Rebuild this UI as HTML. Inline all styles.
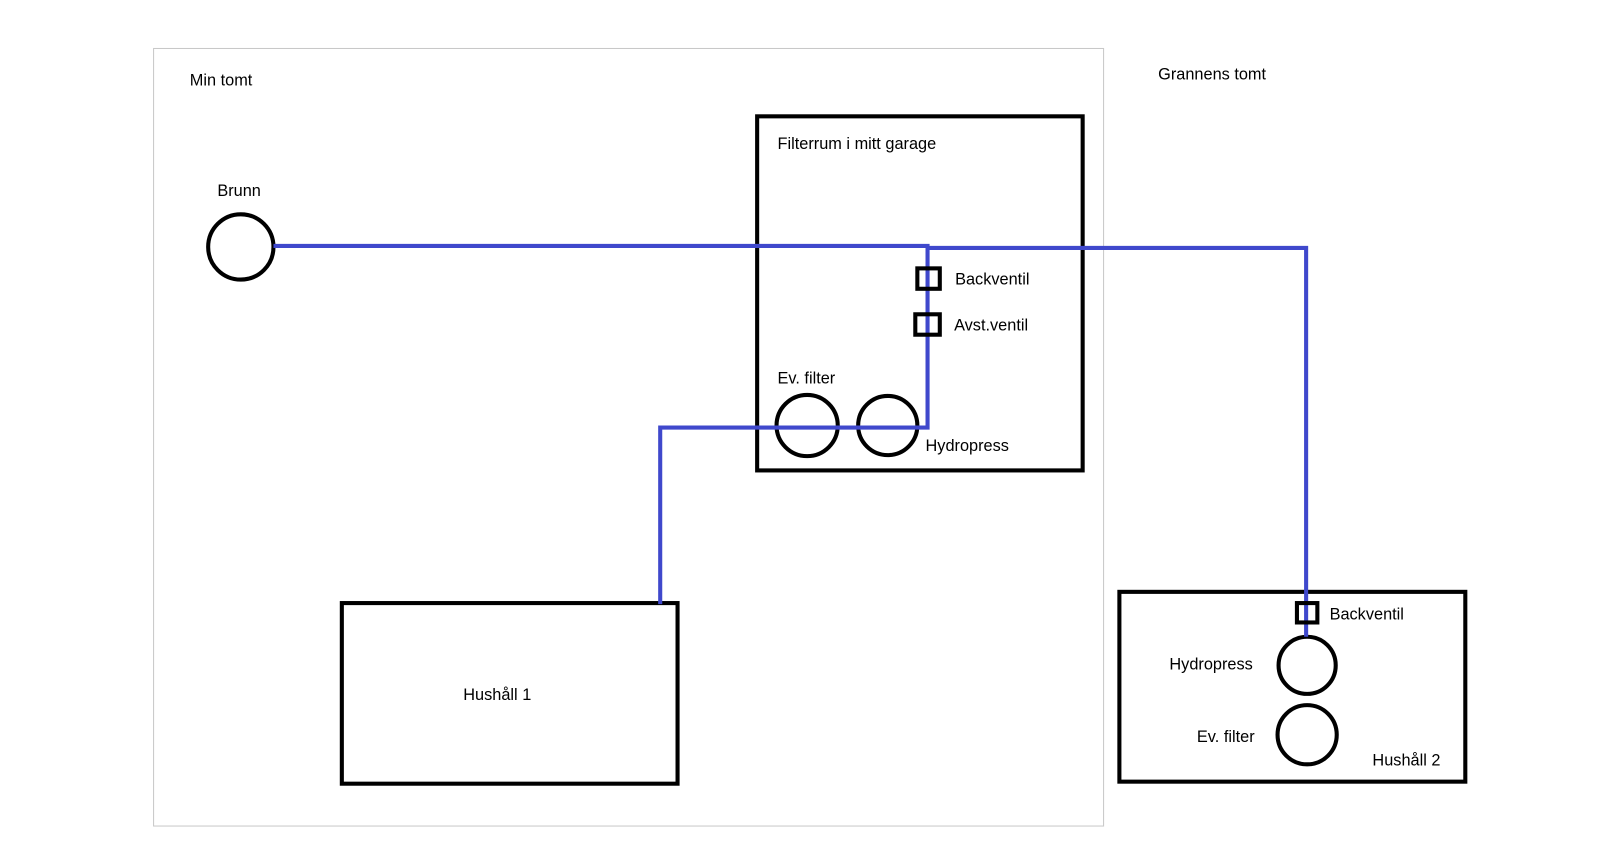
<!DOCTYPE html>
<html><head><meta charset="utf-8"><style>
html,body{margin:0;padding:0;background:#fff;}
svg{display:block}
text{font-family:"Liberation Sans",sans-serif;font-size:16px;fill:#000;}
</style></head><body>
<svg width="1600" height="864" viewBox="0 0 1568 846.7" preserveAspectRatio="none" xmlns="http://www.w3.org/2000/svg">
<rect x="150.5" y="47.5" width="931" height="762" fill="none" stroke="#c8c8c8" stroke-width="1"/>
<text x="186" y="84">Min tomt</text>
<text x="1135" y="78">Grannens tomt</text>
<text x="213" y="192">Brunn</text>
<circle cx="236" cy="242" r="32" fill="none" stroke="#000" stroke-width="4"/>
<rect x="742" y="114" width="319" height="347" fill="none" stroke="#000" stroke-width="4"/>
<text x="762" y="146">Filterrum i mitt garage</text>
<g fill="none" stroke="#000" stroke-width="4">
<circle cx="791" cy="417" r="30"/>
<circle cx="870" cy="417" r="29"/>
<rect x="335" y="591" width="329" height="177"/>
<rect x="1097" y="580" width="339" height="186"/>
<circle cx="1281" cy="652" r="28"/>
<circle cx="1281" cy="720" r="29"/>
</g>
<g fill="none" stroke="#3f48cc" stroke-width="4">
<polyline points="268,241 909,241 909,419 647,419 647,592"/>
<polyline points="909,243 1280,243 1280,624"/>
</g>
<g fill="none" stroke="#000" stroke-width="4">
<rect x="899" y="263" width="22" height="20"/>
<rect x="897" y="308" width="24" height="20"/>
<rect x="1271" y="591" width="20" height="19"/>
</g>
<text x="936" y="279">Backventil</text>
<text x="935" y="324">Avst.ventil</text>
<text x="762" y="376">Ev. filter</text>
<text x="907" y="442">Hydropress</text>
<text x="454" y="686">Hushåll 1</text>
<text x="1303" y="607">Backventil</text>
<text x="1146" y="656">Hydropress</text>
<text x="1173" y="727">Ev. filter</text>
<text x="1345" y="750">Hushåll 2</text>
</svg>
</body></html>
